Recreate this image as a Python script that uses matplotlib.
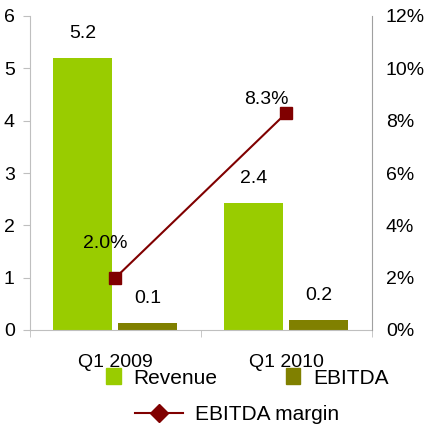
import numpy as np
import matplotlib.pyplot as plt
from matplotlib.lines import Line2D
from matplotlib.patches import Patch

plt.rcParams["font.family"] = ["Liberation Sans", "DejaVu Sans"]

quarters = ["Q1 2009", "Q1 2010"]
revenue = [5.2, 2.43]
ebitda = [0.13, 0.2]
margin = [2.0, 8.3]  # percent

GREEN = "#99cc00"
OLIVE = "#808000"
RED = "#800000"
GRID = "#bfbfbf"
FS = 14

fig = plt.figure(figsize=(4.27, 4.30), dpi=100)
ax = fig.add_axes([30 / 427, 100 / 430, 342 / 427, 314 / 430])
x = np.arange(len(quarters))
w = 0.35

ax.bar(x - 0.193, revenue, w, color=GREEN)
ax.bar(x + 0.187, ebitda, w, color=OLIVE)

for i in range(len(quarters)):
    ax.text(x[i] - 0.193, revenue[i] + 0.3, f"{revenue[i]:.1f}", ha="center", va="bottom", fontsize=FS)
    ax.text(x[i] + 0.187, ebitda[i] + 0.3, f"{ebitda[i]:.1f}", ha="center", va="bottom", fontsize=FS)

ax.set_xlim(-0.5, 1.5)
ax.set_ylim(0, 6)
ax.set_yticks(range(7))
ax.set_xticks(x)
ax.set_xticklabels(quarters, fontsize=FS)
ax.set_xticks([-0.5, 0.5, 1.5], minor=True)
ax.tick_params(axis="x", which="major", length=0, pad=17)
ax.tick_params(axis="x", which="minor", length=5, color=GRID)
ax.tick_params(axis="y", length=5, color=GRID, labelsize=FS, pad=6)
ax.spines["top"].set_visible(False)
ax.spines["right"].set_visible(False)
ax.spines["left"].set_color(GRID)
ax.spines["bottom"].set_color(GRID)

ax2 = ax.twinx()
ax2.plot(x, margin, color=RED, lw=1.5, marker="s", markersize=9)
ax2.set_ylim(0, 12)
ax2.set_yticks(range(0, 13, 2))
ax2.set_yticklabels([f"{v}%" for v in range(0, 13, 2)], fontsize=FS)
ax2.tick_params(axis="y", length=0, pad=10)
for s in ["top", "left", "bottom"]:
    ax2.spines[s].set_visible(False)
ax2.spines["right"].set_color("#a0a0a0")

ax2.text(x[0] - 0.06, margin[0] + 1.0, f"{margin[0]:.1f}%", ha="center", va="bottom", fontsize=FS)
ax2.text(x[1] - 0.12, margin[1] + 0.2, f"{margin[1]:.1f}%", ha="center", va="bottom", fontsize=FS)

bar_handles = [Patch(color=GREEN, label="Revenue"), Patch(color=OLIVE, label="EBITDA")]
fig.legend(handles=bar_handles, loc="center left", bbox_to_anchor=(106 / 427, 0.121), ncol=2,
           frameon=False, fontsize=15, columnspacing=3.3, handlelength=0.7, handleheight=0.8,
           handletextpad=0.6, borderpad=0, borderaxespad=0)
line_handle = [Line2D([], [], color=RED, lw=1.5, marker="D", markersize=9, label="EBITDA margin")]
fig.legend(handles=line_handle, loc="center left", bbox_to_anchor=(135 / 427, 0.035), frameon=False,
           fontsize=15, handlelength=2.3, handletextpad=0.6, borderpad=0, borderaxespad=0)

fig.savefig("out.png", dpi=100)
